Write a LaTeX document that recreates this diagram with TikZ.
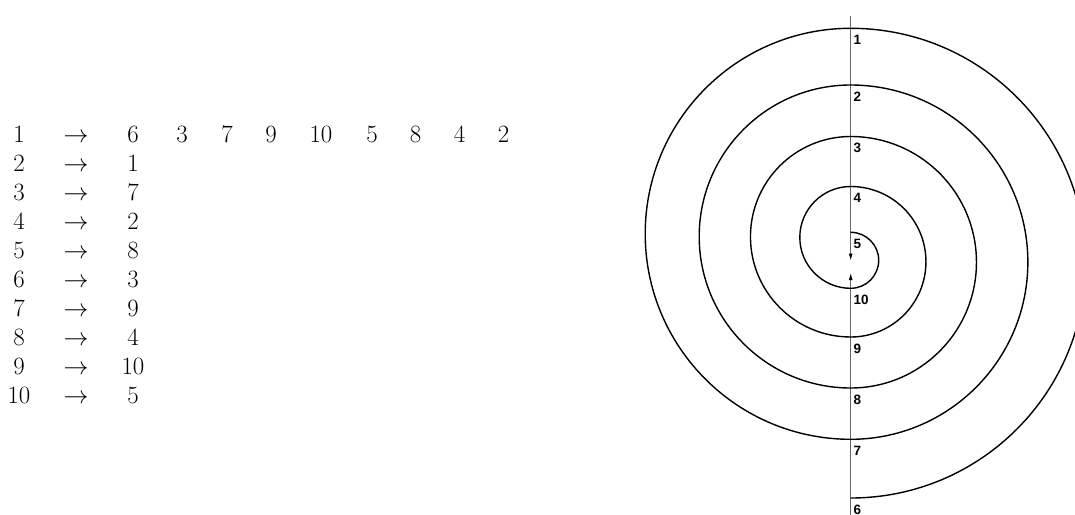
\documentclass[tikz,border=0pt]{standalone}
\usepackage{fontspec}
\newfontfamily\labelfont{Liberation Sans}
\usetikzlibrary{arrows.meta}
\begin{document}
\begin{tikzpicture}[x=1pt,y=-1pt,
  tab/.style={anchor=base,inner sep=0pt,font=\fontsize{23.3}{28}\selectfont},
  lab/.style={anchor=base west,inner sep=0pt,font=\labelfont\bfseries\fontsize{13.5}{15}\selectfont},
  spiral/.style={line width=1.4pt,black},
  axisline/.style={line width=0.9pt,black!60},
  axistip/.style={-{Latex[length=7pt,width=4pt,black]}}]
\clip (0,0) rectangle (1075,514);
% ---------- table ----------
\foreach \k/\a/\b in {1/1/6,2/2/1,3/3/7,4/4/2,5/5/8,6/6/3,7/7/9,8/8/4,9/9/10,10/10/5}{
  \node[tab] (l\k) at (19,{142+29*(\k-1)}) {$\a$};
  \node[tab] (a\k) at (76,{142+29*(\k-1)}) {$\to$};
  \node[tab] (r\k) at (133,{142+29*(\k-1)}) {$\b$};
}
\foreach \i/\x/\v in {1/182/3,2/227/7,3/271/9,4/321/10,5/372/5,6/415.5/8,7/459.5/4,8/503.5/2}{
  \node[tab] (e\i) at (\x,142) {$\v$};
}
% ---------- axis ----------
\coordinate (atop) at (850.7,15.7);
\coordinate (aup) at (850.7,260.5);
\coordinate (abot) at (850.7,520);
\coordinate (adown) at (850.7,273);
\draw[axisline,axistip] (atop) -- (aup);
\draw[axisline,axistip] (abot) -- (adown);
% ---------- spiral ----------
\coordinate (s5) at (850.7,232.3);
\draw[spiral] (s5)
  arc[start angle=-90,end angle=90,radius=28]
  arc[start angle=90,end angle=270,radius=50.9]
  arc[start angle=-90,end angle=90,radius=75.25]
  arc[start angle=90,end angle=270,radius=100.25]
  arc[start angle=-90,end angle=90,radius=125.75]
  arc[start angle=90,end angle=270,radius=151.5]
  arc[start angle=-90,end angle=90,radius=177.15]
  arc[start angle=90,end angle=270,radius=205.5]
  arc[start angle=-90,end angle=90,radius=234.85];
% ---------- labels ----------
\foreach \n/\c in {1/28.3,2/85,3/136.5,4/186.5,5/232.3,10/288.3,9/337,8/388,7/439.3,6/498}{
  \node[lab] (n\n) at (853.5,{\c+16}) {\n};
}
\end{tikzpicture}
\end{document}
